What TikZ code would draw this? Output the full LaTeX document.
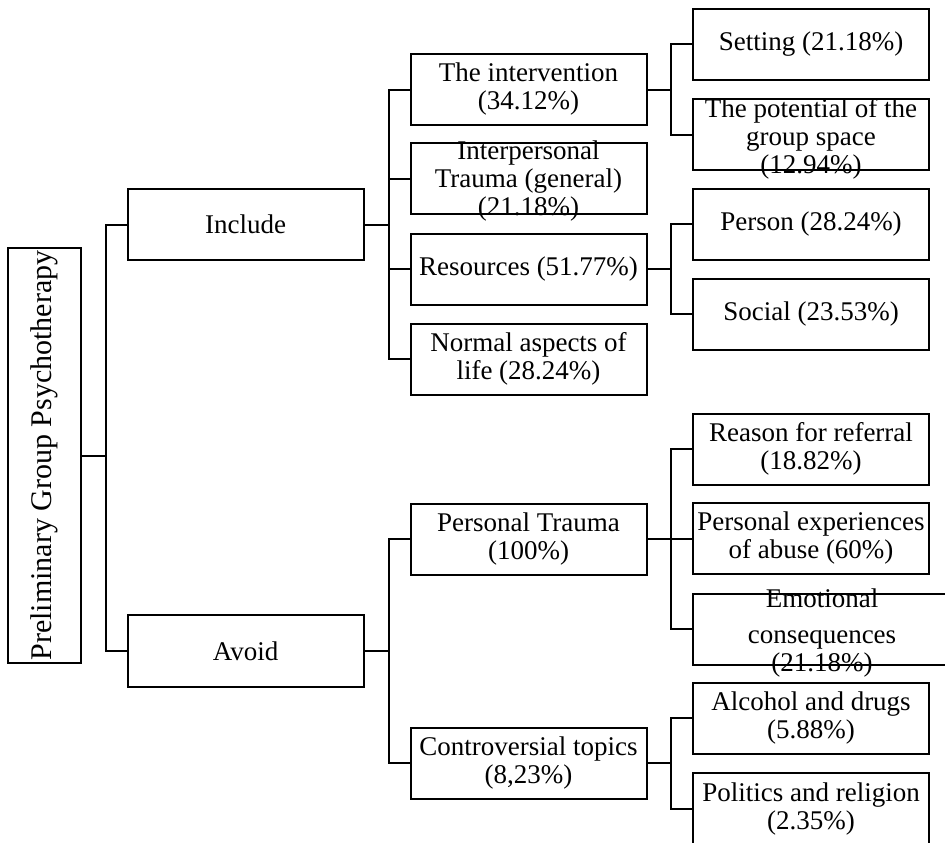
\documentclass[tikz,border=0pt]{standalone}
\usepackage{fontspec}
\setmainfont{Liberation Serif}
\tikzset{
    box/.style={draw, line width=2pt, minimum width=236pt, minimum height=71pt, inner sep=0pt},
    txt/.style={align=center, inner sep=0pt, font=\fontsize{27}{28}\selectfont},
    link/.style={line width=2pt},
}

\begin{document}
\begin{tikzpicture}[x=1pt,y=-1pt]
            \useasboundingbox (0,0) rectangle (945,843);
            \clip (0,0) rectangle (945,843);
            \node[box, minimum width=73pt, minimum height=415pt,
                label={[txt, rotate=90, font=\fontsize{30}{32}\selectfont]center:{Preliminary Group Psychotherapy}}] (root) at (44.5,455.5) {};
            \node[box, label={[txt]center:{Include}}] (incl) at (245.5,224.5) {};
            \node[box, minimum height=72pt, label={[txt]center:{Avoid}}] (avoid) at (245.5,651) {};
            \node[box, label={[txt]center:{The intervention\\(34.12\%)}}] (interv) at (528.5,89.5) {};
            \node[box, label={[txt, yshift=-3pt]center:{Interpersonal\\Trauma (general)\\(21.18\%)}}] (interp) at (528.5,178.5) {};
            \node[box, label={[txt]center:{Resources (51.77\%)}}] (resrc) at (528.5,269) {};
            \node[box, label={[txt]center:{Normal aspects of\\life (28.24\%)}}] (normal) at (528.5,359) {};
            \node[box, label={[txt]center:{Setting (21.18\%)}}] (setting) at (811,44.5) {};
            \node[box, label={[txt, yshift=-4pt]center:{The potential of the\\group space\\(12.94\%)}}] (potent) at (811,134.5) {};
            \node[box, label={[txt]center:{Person (28.24\%)}}] (person) at (811,224) {};
            \node[box, label={[txt]center:{Social (23.53\%)}}] (social) at (811,314) {};
            \node[box, label={[txt]center:{Personal Trauma\\(100\%)}}] (ptrauma) at (528.5,539) {};
            \node[box, label={[txt]center:{Controversial topics\\(8,23\%)}}] (contro) at (528.5,763) {};
            \node[box, label={[txt]center:{Reason for referral\\(18.82\%)}}] (reason) at (811,449) {};
            \node[box, label={[txt]center:{Personal experiences\\of abuse (60\%)}}] (pexp) at (811,538.5) {};
            \node[box, minimum width=258pt, label={[txt, yshift=-4pt]center:{Emotional\\[8pt]consequences\\(21.18\%)}}] (emot) at (822,629) {};
            \node[box, label={[txt]center:{Alcohol and drugs\\(5.88\%)}}] (alcohol) at (811,718) {};
            \node[box, label={[txt]center:{Politics and religion\\(2.35\%)}}] (politic) at (811,808.5) {};

            \draw[link] (root.east) -- ++(24,0) coordinate (j0);
            \draw[link] (j0) |- (incl.west);
            \draw[link] (j0) |- (avoid.west);

            \draw[link] (incl.east) -- ++(24,0) coordinate (j1);
            \draw[link] (j1) |- (interv.west);
            \draw[link] (j1) |- (interp.west);
            \draw[link] (j1) |- (resrc.west);
            \draw[link] (j1) |- (normal.west);

            \draw[link] (avoid.east) -- ++(24,0) coordinate (j2);
            \draw[link] (j2) |- (ptrauma.west);
            \draw[link] (j2) |- (contro.west);

            \draw[link] (interv.east) -- ++(23,0) coordinate (j3);
            \draw[link] (j3) |- (setting.west);
            \draw[link] (j3) |- (potent.west);

            \draw[link] (resrc.east) -- ++(23,0) coordinate (j4);
            \draw[link] (j4) |- (person.west);
            \draw[link] (j4) |- (social.west);

            \draw[link] (ptrauma.east) -- ++(23,0) coordinate (j5);
            \draw[link] (j5) |- (reason.west);
            \draw[link] (j5) |- (pexp.west);
            \draw[link] (j5) |- (emot.west);

            \draw[link] (contro.east) -- ++(23,0) coordinate (j6);
            \draw[link] (j6) |- (alcohol.west);
            \draw[link] (j6) |- (politic.west);
        \end{tikzpicture}
\end{document}
